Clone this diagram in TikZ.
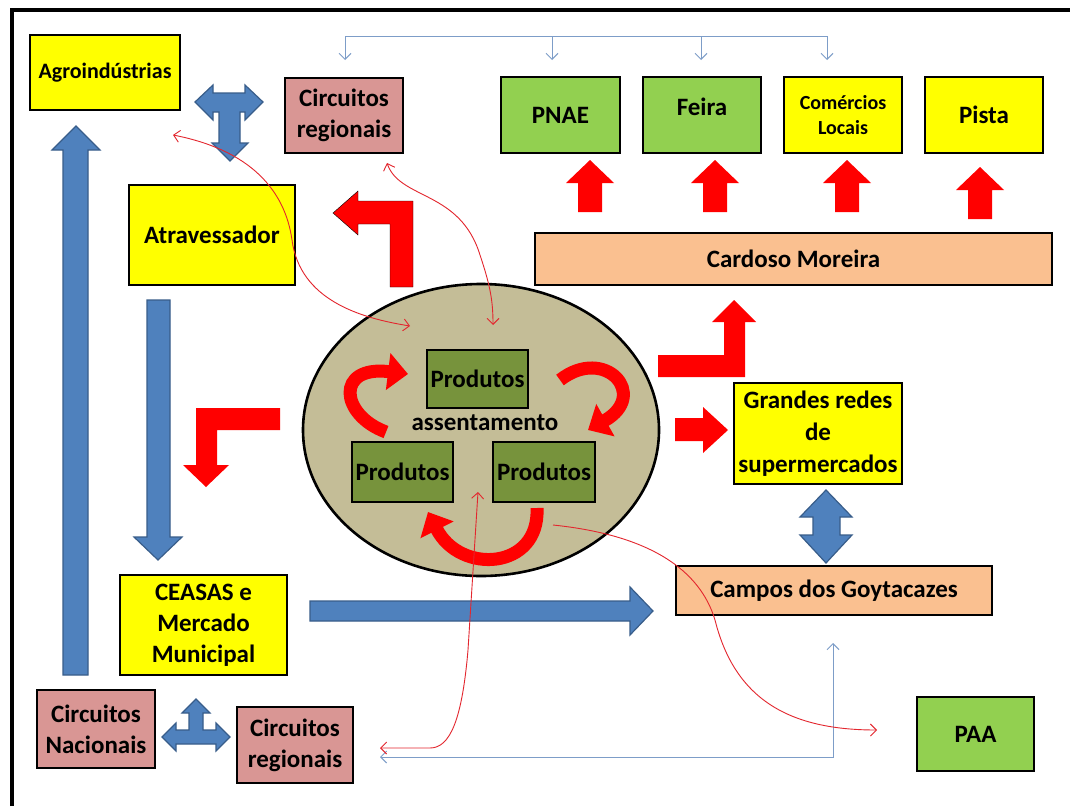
\documentclass[tikz,border=0pt]{standalone}
\usepackage{fontspec}
\setmainfont{Carlito}
\usetikzlibrary{arrows.meta,shapes.geometric}
\definecolor{yellowc}{HTML}{FFFF00}
\definecolor{pinkc}{HTML}{D99694}
\definecolor{greenc}{HTML}{92D050}
\definecolor{peachc}{HTML}{FAC090}
\definecolor{tanc}{HTML}{C4BD97}
\definecolor{olivec}{HTML}{77933C}
\definecolor{redc}{HTML}{FF0000}
\definecolor{bluec}{HTML}{4F81BD}
\definecolor{bluedark}{HTML}{385D8A}
\definecolor{thinbluec}{HTML}{7D9DC8}
\definecolor{thinredc}{HTML}{E3262E}
\begin{document}
\begin{tikzpicture}[x=1pt,y=-1pt,
  >={Straight Barb[length=6pt,width=12pt]},
  box/.style={draw=black,line width=2.6pt,inner sep=0pt,align=center,
    font=\bfseries\fontsize{25}{31}\selectfont,text=black},
  lbl/.style={inner sep=0pt,align=center,font=\bfseries\fontsize{25}{31}\selectfont},
  redshape/.style={fill=redc},
  blueshape/.style={fill=bluec,draw=bluedark,line width=1.2pt,line join=miter},
  ribbon/.style={draw=redc,line width=13pt,-{Triangle[width=36pt,length=20pt]}},
  thinred/.style={draw=thinredc,line width=0.9pt},
  thinblue/.style={draw=thinbluec,line width=1pt}]
\useasboundingbox (0,0) rectangle (1070,806);
\fill[white] (0,0) rectangle (1070,806);
% frame
\draw[line width=4.5pt] (12,806) -- (12,10) -- (1070,10);

% boxes
\node[box,fill=yellowc,minimum width=150,minimum height=75,
  font=\bfseries\fontsize{22}{26}\selectfont] (agro) at (105,72.5) {Agroindústrias};
\node[box,fill=pinkc,minimum width=118,minimum height=75] (creg1) at (344,115.5) {Circuitos\\regionais};
\node[box,fill=greenc,minimum width=119,minimum height=76] (pnae) at (560.5,115) {PNAE};
\node[box,fill=greenc,minimum width=118,minimum height=76] (feira) at (702,115) {};
\node[lbl] (feiratxt) at (702,107) {Feira};
\node[box,fill=yellowc,minimum width=118,minimum height=76,
  font=\bfseries\fontsize{20}{25}\selectfont] (comer) at (843,115) {Comércios\\Locais};
\node[box,fill=yellowc,minimum width=118,minimum height=76] (pista) at (984,115) {Pista};
\node[box,fill=peachc,minimum width=517,minimum height=52] (cardoso) at (793.5,259) {Cardoso Moreira};
\node[box,fill=yellowc,minimum width=166,minimum height=100] (atrav) at (212,235) {Atravessador};
\node[box,fill=yellowc,minimum width=168,minimum height=101,
  font=\bfseries\fontsize{25}{32}\selectfont] (grandes) at (818,433.5) {Grandes redes\\de\\supermercados};
\node[box,fill=peachc,minimum width=316,minimum height=49] (campos) at (834,590.5) {Campos dos Goytacazes};
\node[box,fill=yellowc,minimum width=167,minimum height=100] (ceasas) at (203.5,625) {CEASAS e\\Mercado\\Municipal};
\node[box,fill=pinkc,minimum width=118,minimum height=78] (cnac) at (96,729) {Circuitos\\Nacionais};
\node[box,fill=pinkc,minimum width=116,minimum height=76] (creg2) at (295,745) {Circuitos\\regionais};
\node[box,fill=greenc,minimum width=117,minimum height=74] (paa) at (975.5,734) {PAA};

% settlement ellipse
\node[ellipse,draw=black,line width=2.6pt,fill=tanc,minimum width=356,minimum height=292,inner sep=0pt] (assent) at (481,430) {};
\node[box,line width=2pt,fill=olivec,minimum width=101,minimum height=58] (prodT) at (477.5,379) {Produtos};
\node[box,line width=2pt,fill=olivec,minimum width=101,minimum height=60] (prodL) at (402.5,472) {Produtos};
\node[box,line width=2pt,fill=olivec,minimum width=102,minimum height=60] (prodR) at (544,472) {Produtos};
\node[lbl] (assenttxt) at (485,423) {assentamento};

% curved red arrows inside the ellipse
\draw[ribbon] (386,432) .. controls (340,415) and (335,365) .. (408,374);
\draw[ribbon] (560,380) .. controls (605,345) and (650,395) .. (588,430);
\draw[ribbon] (537,508) .. controls (540,570) and (460,575) .. (428,512);

% big red arrows
\draw[redshape] (413,287) -- (413,201) -- (358,201) -- (358,191) -- (333,213) -- (358,235) -- (358,224) -- (390,224) -- (390,287) -- cycle;
\fill[redshape] (280,408) -- (280,430) -- (217,430) -- (217,465) -- (229,465) -- (206,487) -- (183,465) -- (196,465) -- (196,408) -- cycle;
\fill[redshape] (658,355) -- (724,355) -- (724,322) -- (712,322) -- (734,300) -- (756,322) -- (745,322) -- (745,377) -- (658,377) -- cycle;
\fill[redshape] (675,418) -- (703,418) -- (703,407) -- (728,430) -- (703,453) -- (703,441) -- (675,441) -- cycle;
\foreach \cx/\ty in {590/160,715/160,847/160,980/167}
  \fill[redshape,shift={(\cx,\ty)}] (-12,52) -- (-12,23) -- (-24,23) -- (0,0) -- (24,23) -- (12,23) -- (12,52) -- cycle;

% big blue arrows
\filldraw[blueshape] (63,675) -- (63,150) -- (52,150) -- (76,126) -- (100,150) -- (88,150) -- (88,675) -- cycle;
\filldraw[blueshape] (147,300) -- (170,300) -- (170,537) -- (182,537) -- (158,560) -- (134,537) -- (147,537) -- cycle;
\filldraw[blueshape] (310,601) -- (630,601) -- (630,587) -- (653,611) -- (630,635) -- (630,621) -- (310,621) -- cycle;
\filldraw[blueshape] (826,490) -- (852,517) -- (840,517) -- (840,535) -- (852,535) -- (826,563) -- (800,535) -- (813,535) -- (813,517) -- (800,517) -- cycle;
\filldraw[blueshape] (195,102) -- (213,85) -- (213,93) -- (245,93) -- (245,85) -- (263,102) -- (245,120) -- (245,112) -- (240,112) -- (240,143) -- (248,143) -- (230,161) -- (212,143) -- (219,143) -- (219,112) -- (213,112) -- (213,120) -- cycle;
\filldraw[blueshape] (196,699) -- (210,713) -- (203,713) -- (203,730) -- (216,730) -- (216,723) -- (230,737) -- (216,751) -- (216,744) -- (176,744) -- (176,751) -- (162,737) -- (176,723) -- (176,730) -- (189,730) -- (189,713) -- (182,713) -- cycle;

% thin blue connectors
\coordinate (tA) at (345,60);
\coordinate (tB) at (552,60);
\coordinate (tC) at (701,60);
\coordinate (tD) at (827,60);
\draw[thinblue] (345,36) -- (827,36);
\draw[thinblue,->] (345,36) -- (tA);
\draw[thinblue,->] (552,36) -- (tB);
\draw[thinblue,->] (701,36) -- (tC);
\draw[thinblue,->] (827,36) -- (tD);
\coordinate (bL) at (380,757);
\coordinate (bU) at (833,643);
\draw[thinblue,<->] (bL) -- (833,757) -- (bU);

% thin red connectors
\coordinate (r1a) at (173,135);
\coordinate (r1b) at (410,326);
\draw[thinred,<->] (r1a) .. controls (250,150) and (285,190) .. (292,240) .. controls (300,300) and (360,318) .. (r1b);
\coordinate (r2a) at (387,163);
\coordinate (r2b) at (493,325);
\draw[thinred,<->] (r2a) .. controls (400,200) and (460,190) .. (480,255) .. controls (490,285) and (493,300) .. (r2b);
\coordinate (r3a) at (478,492);
\coordinate (r3b) at (380,748);
\draw[thinred,<->] (r3a) -- (468,650) .. controls (462,720) and (450,748) .. (430,748) -- (r3b);
\coordinate (r4a) at (553,525);
\coordinate (r4b) at (877,730);
\draw[thinred,->] (r4a) .. controls (650,535) and (700,570) .. (715,620) .. controls (735,700) and (790,730) .. (r4b);
\end{tikzpicture}
\end{document}
